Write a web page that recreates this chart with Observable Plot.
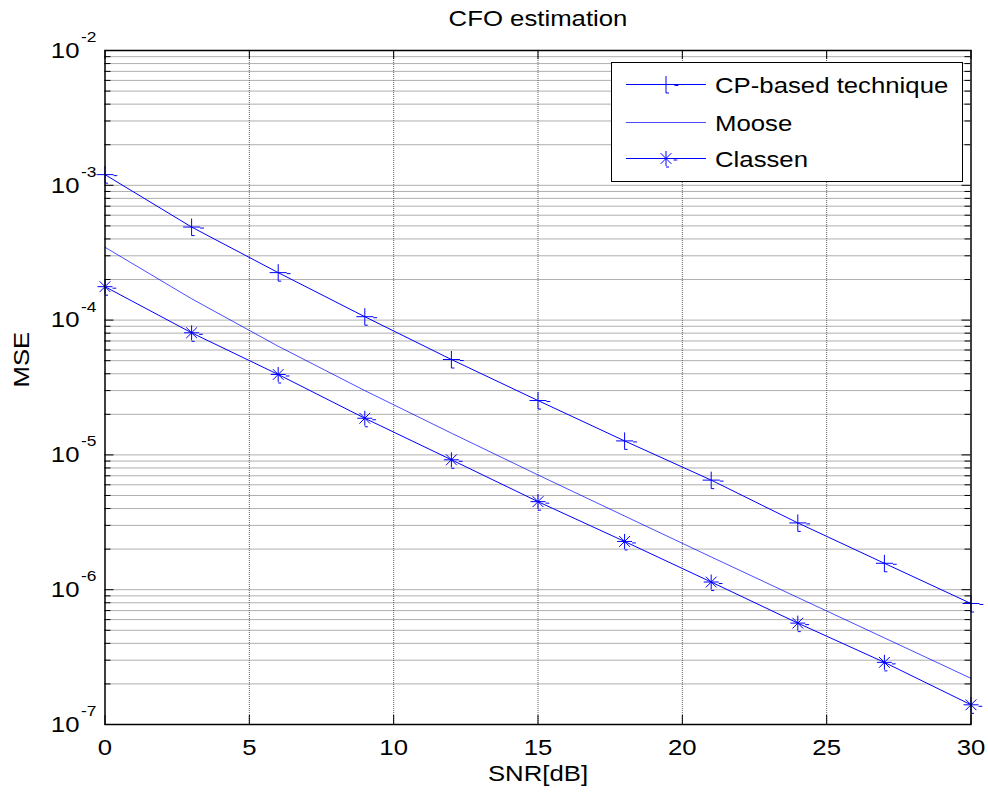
<!DOCTYPE html>
<html>
<head>
<meta charset="utf-8">
<script src="https://cdn.jsdelivr.net/npm/d3@7"></script>
<script src="https://cdn.jsdelivr.net/npm/@observablehq/plot@0.6"></script>
<style>
  body { margin: 0; background: #fff; }
  #chart svg { display: block; background: #fff; }
</style>
</head>
<body>
<div id="chart"></div>
<script>
// SNR sweep (dB) and mean-squared error of each CFO estimator
const snr = [0, 3, 6, 9, 12, 15, 18, 21, 24, 27, 30];
const cpBased = [1.2e-3, 4.9e-4, 2.25e-4, 1.06e-4, 5.1e-5, 2.53e-5, 1.27e-5, 6.5e-6, 3.13e-6, 1.57e-6, 7.9e-7];
const moose   = [3.47e-4, 1.44e-4, 6.4e-5, 3.0e-5, 1.45e-5, 7.1e-6, 3.52e-6, 1.75e-6, 8.75e-7, 4.39e-7, 2.2e-7];
const classen = [1.77e-4, 8.05e-5, 3.95e-5, 1.87e-5, 9.2e-6, 4.5e-6, 2.28e-6, 1.14e-6, 5.65e-7, 2.89e-7, 1.4e-7];
const seriesNames = ["CP-based technique", "Moose", "Classen"];

// Axis ticks and labels
const xTicks = [0, 5, 10, 15, 20, 25, 30];
const xLabels = ["0", "5", "10", "15", "20", "25", "30"];
const yExponents = [-7, -6, -5, -4, -3, -2];
const yExpLabels = ["-7", "-6", "-5", "-4", "-3", "-2"];
const minorSteps = [2, 3, 4, 5, 6, 7, 8, 9];
const titleText = "CFO estimation";
const xTitle = "SNR[dB]";
const yTitle = "MSE";

const yMajor = yExponents.map(e => Math.pow(10, e));
const yMinor = yExponents.slice(0, -1).flatMap(e => minorSteps.map(m => m * Math.pow(10, e)));
const yGrid = yMinor.concat(yMajor.slice(1, -1));
const xGrid = xTicks.slice(1, -1);

const W = 988, H = 799;
const mL = 104.5, mR = 17.5, mT = 50, mB = 75;
const fw = W - mL - mR, fh = H - mT - mB;
const blue = "#0000ff";
const fontSize = 23;
const expSize = 15.5;
const stretch = 1.12;

// MATLAB-like "+" marker (with its little rendering tails)
const plusMarker = {
  draw(ctx, size) {
    const r = Math.sqrt(size / Math.PI);
    ctx.moveTo(-r, 0); ctx.lineTo(r, 0);
    ctx.moveTo(0, -r); ctx.lineTo(0, r);
    ctx.moveTo(0, r); ctx.lineTo(r * 0.35, r);
    ctx.moveTo(r, 1); ctx.lineTo(r * 1.45, 1);
  }
};
// MATLAB-like "*" marker
const starMarker = {
  draw(ctx, size) {
    const r = Math.sqrt(size / Math.PI);
    const d = r * 0.72;
    ctx.moveTo(-r, 0); ctx.lineTo(r, 0);
    ctx.moveTo(0, -r); ctx.lineTo(0, r);
    ctx.moveTo(-d, -d); ctx.lineTo(d, d);
    ctx.moveTo(-d, d); ctx.lineTo(d, -d);
    ctx.moveTo(0, r + 1); ctx.lineTo(r * 0.4, r + 1);
    ctx.moveTo(r, 1.5); ctx.lineTo(r * 1.5, 1.5);
  }
};

const gridStyle = {stroke: "#5e5e5e", strokeWidth: 1, strokeDasharray: "1 1"};
const majorLen = 9, minorLen = 6;

const chart = Plot.plot({
  width: W,
  height: H,
  marginLeft: mL,
  marginRight: mR,
  marginTop: mT,
  marginBottom: mB,
  style: {fontFamily: "'Liberation Sans', Arial, sans-serif", fontSize: `${fontSize}px`, color: "#000", background: "#fff", overflow: "visible"},
  x: {domain: [0, 30], axis: null},
  y: {type: "log", domain: [1e-7, 1e-2], axis: null},
  marks: [
    // dotted grid
    Plot.ruleY(yGrid, {y: d => d, ...gridStyle}),
    Plot.ruleX(xGrid, {x: d => d, ...gridStyle}),
    // inward tick marks on all four sides
    Plot.tickY(yMinor, {y: d => d, insetRight: fw - minorLen, stroke: "#000"}),
    Plot.tickY(yMinor, {y: d => d, insetLeft: fw - minorLen, stroke: "#000"}),
    Plot.tickY(yMajor, {y: d => d, insetRight: fw - majorLen, stroke: "#000"}),
    Plot.tickY(yMajor, {y: d => d, insetLeft: fw - majorLen, stroke: "#000"}),
    Plot.tickX(xTicks, {x: d => d, insetBottom: fh - majorLen, stroke: "#000"}),
    Plot.tickX(xTicks, {x: d => d, insetTop: fh - majorLen, stroke: "#000"}),
    // series
    Plot.line(cpBased, {x: snr, y: cpBased, stroke: blue, strokeWidth: 1}),
    Plot.line(moose, {x: snr, y: moose, stroke: blue, strokeWidth: 1, strokeOpacity: 0.7}),
    Plot.line(classen, {x: snr, y: classen, stroke: blue, strokeWidth: 1}),
    Plot.dot(cpBased, {x: snr, y: cpBased, symbol: plusMarker, r: 8.5, stroke: blue, fill: "none", strokeWidth: 1}),
    Plot.dot(classen, {x: snr, y: classen, symbol: starMarker, r: 7.5, stroke: blue, fill: "none", strokeWidth: 1}),
    Plot.frame({stroke: "#000", strokeWidth: 1.5}),
    // tick labels
    Plot.text(xLabels, {x: xTicks, text: xLabels, frameAnchor: "bottom", lineAnchor: "middle", dy: 23.5, fontSize}),
    Plot.text(yMajor, {y: d => d, text: () => "10", frameAnchor: "left", lineAnchor: "middle", textAnchor: "end", dx: -25.5, fontSize}),
    Plot.text(yMajor, {y: d => d, text: yExpLabels, frameAnchor: "left", lineAnchor: "middle", textAnchor: "start", dx: -24, dy: -13.5, fontSize: expSize}),
    // titles
    Plot.text([titleText], {frameAnchor: "top", lineAnchor: "middle", dy: -32, fontSize}),
    Plot.text([xTitle], {frameAnchor: "bottom", lineAnchor: "middle", dy: 49, fontSize}),
    Plot.text([yTitle], {frameAnchor: "left", lineAnchor: "middle", rotate: -90, dx: -83.5, fontSize})
  ]
});

// Legend box in the upper right corner of the axes
const legend = d3.select(chart).append("g").attr("class", "legend");
const lx = 611.5, ly = 62.5, lw = 351, lh = 119;
legend.append("rect")
  .attr("x", lx).attr("y", ly).attr("width", lw).attr("height", lh)
  .attr("fill", "#fff").attr("stroke", "#000").attr("stroke-width", 1);
const legendRows = [
  {name: seriesNames[0], symbol: plusMarker, r: 8.5, opacity: 1},
  {name: seriesNames[1], symbol: null, r: 0, opacity: 0.7},
  {name: seriesNames[2], symbol: starMarker, r: 7.5, opacity: 1}
];
const rowY = [84.5, 122.5, 158.5];
legendRows.forEach((row, i) => {
  const y = rowY[i];
  legend.append("line")
    .attr("x1", 626).attr("x2", 706).attr("y1", y).attr("y2", y)
    .attr("stroke", blue).attr("stroke-width", 1).attr("stroke-opacity", row.opacity);
  if (row.symbol) {
    legend.append("path")
      .attr("transform", `translate(666,${y})`)
      .attr("d", d3.symbol(row.symbol, Math.PI * row.r * row.r)())
      .attr("fill", "none").attr("stroke", blue).attr("stroke-width", 1);
  }
  legend.append("text")
    .attr("x", 715).attr("y", y).attr("dy", "0.35em")
    .attr("text-anchor", "start")
    .attr("font-size", fontSize)
    .attr("fill", "#000")
    .text(row.name);
});

// Widen the glyphs horizontally, keeping each text's anchor point fixed
chart.querySelectorAll("text").forEach(t => {
  const x = parseFloat(t.getAttribute("x")) || 0;
  const tr = t.getAttribute("transform") || "";
  t.setAttribute("transform", `${tr} translate(${x},0) scale(${stretch},1) translate(${-x},0)`.trim());
});

document.getElementById("chart").appendChild(chart);
</script>
</body>
</html>
